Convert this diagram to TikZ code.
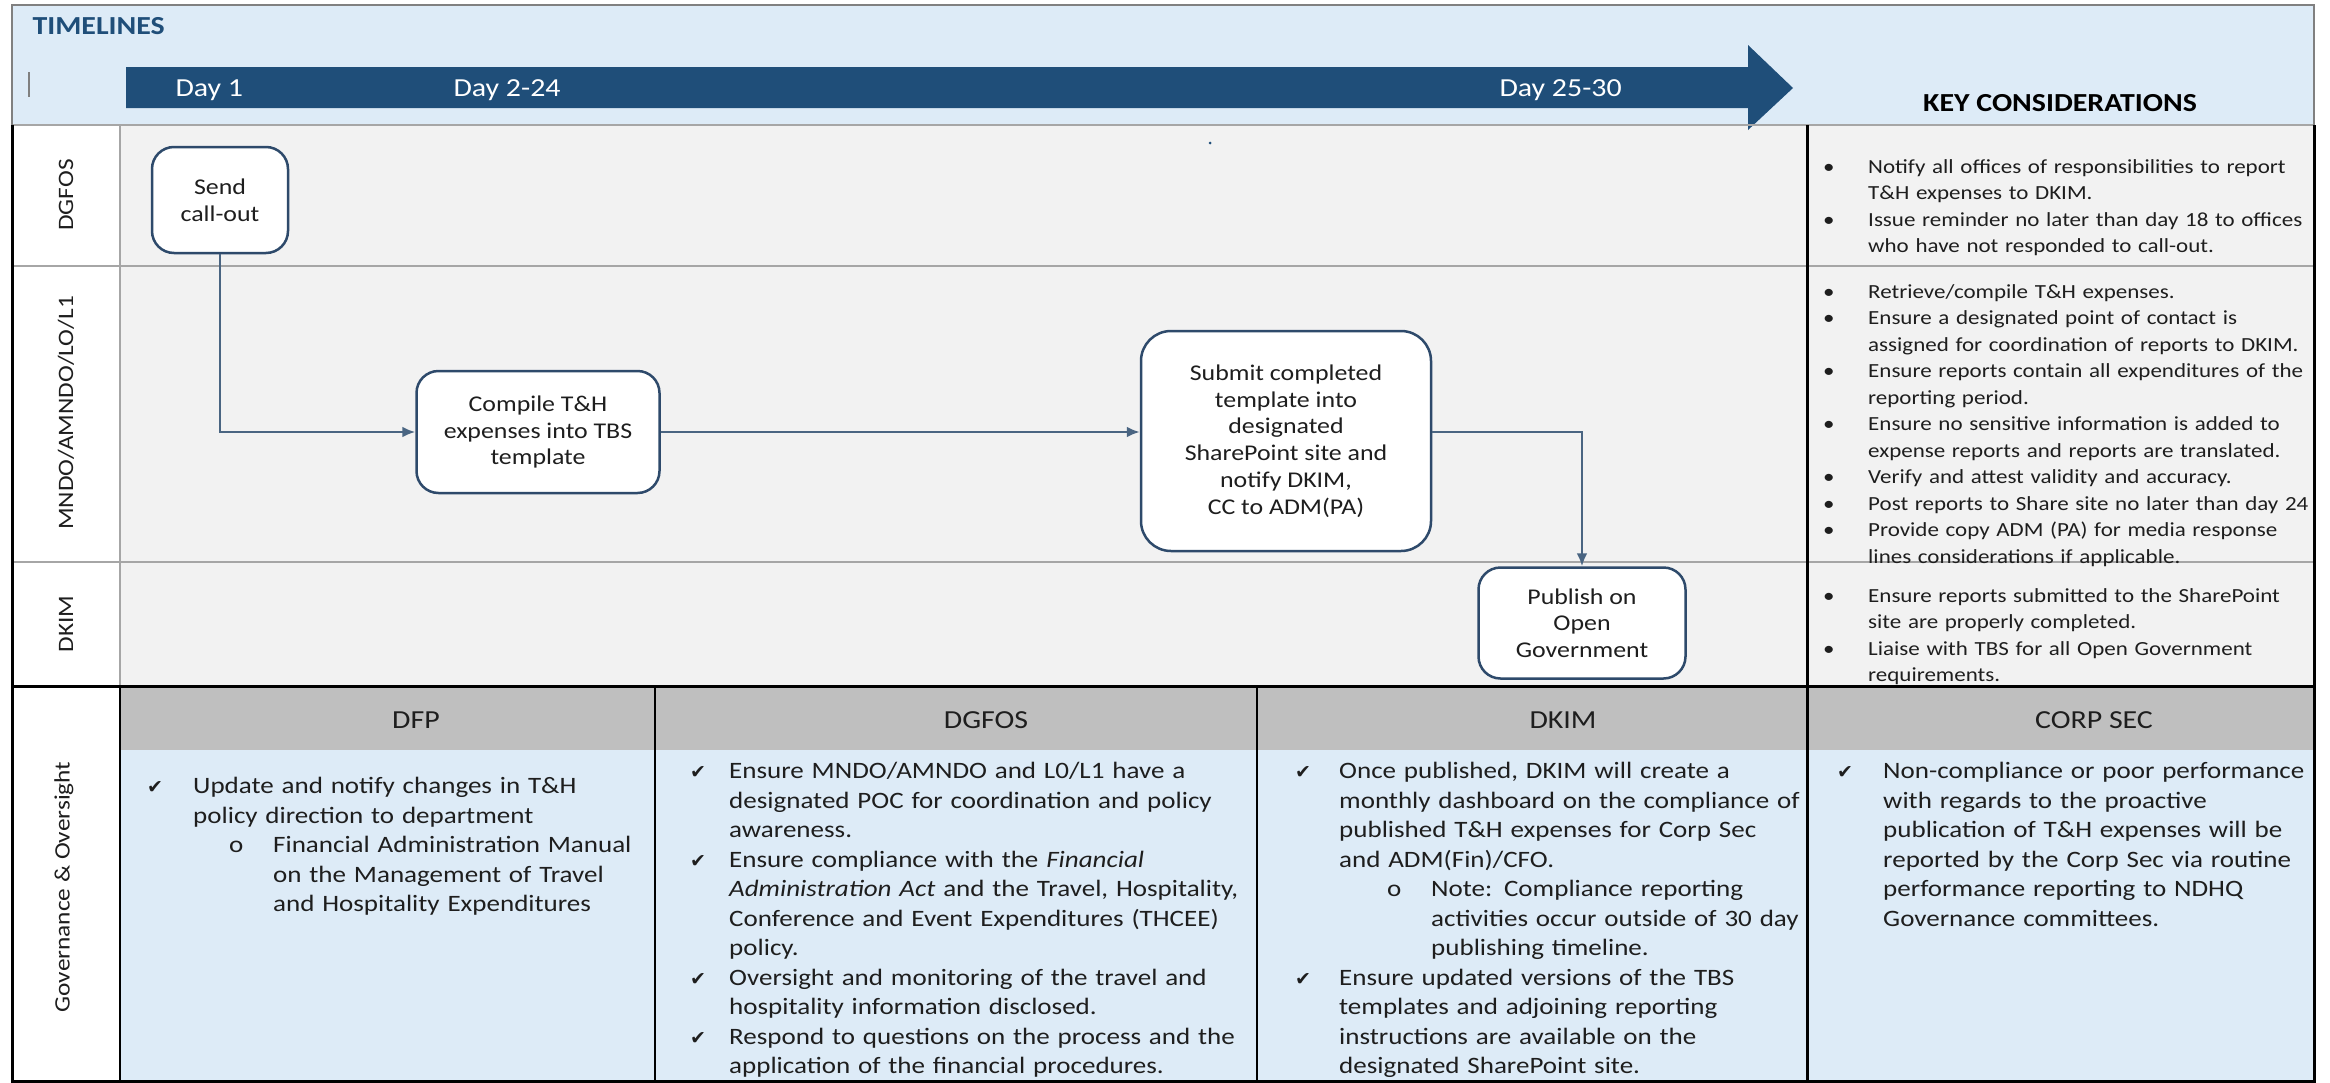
\documentclass[tikz,border=0pt]{standalone}
\usepackage{fontspec}
\setmainfont{Carlito}[FakeStretch=1.15]
\newfontfamily\symfont{DejaVu Sans}
\usetikzlibrary{arrows.meta}

\definecolor{headBlue}{HTML}{DDEBF7}
\definecolor{arrowBlue}{HTML}{1F4E79}
\definecolor{laneGray}{HTML}{F2F2F2}
\definecolor{gridGray}{HTML}{A6A6A6}
\definecolor{govGray}{HTML}{BFBFBF}
\definecolor{stepLine}{HTML}{2E4A6B}
\definecolor{linkLine}{HTML}{4A6582}
\definecolor{textDark}{HTML}{1E1E1E}

\newcommand{\stepFont}{\fontsize{22.5}{26.7}\selectfont}
\newcommand{\kcFont}{\fontsize{20}{26.5}\selectfont}
\newcommand{\govFont}{\fontsize{23.5}{29.5}\selectfont}
\newcommand{\laneFont}{\fontsize{22}{26}\selectfont}
\newcommand{\headFont}{\fontsize{26}{30}\selectfont}
\newcommand{\titleFont}{\fontsize{26}{30}\selectfont\bfseries}

% one list entry: mark, mark indent, text indent, text
\newcommand{\listitem}[4]{\par\noindent\hangindent=#3\hangafter=1%
  \makebox[#3][l]{\hspace*{#2}#1}\strut\ignorespaces#4\strut\par}
\newcommand{\chk}{{\symfont\fontsize{19}{19}\selectfont ✔}}

\begin{document}
\begin{tikzpicture}[x=1pt, y=-1pt,
    block_step/.style ={rectangle, draw=stepLine, line width=2.5pt, fill=white,
      rounded corners=22pt, align=center, inner sep=0pt, font=\stepFont, text=textDark},
    block_text/.style ={anchor=north west, inner sep=0pt, align=left, text=textDark},
    lane_label/.style ={rotate=90, font=\laneFont, text=textDark},
    gov_head/.style ={font=\headFont, text=textDark},
    day_label/.style ={anchor=west, font=\headFont, text=white},
    line/.style ={draw=linkLine, line width=2.4pt, -{Latex[length=13pt,width=11pt]}}]

    \useasboundingbox (0,0) rectangle (2330,1082);

    % backgrounds
    \fill [headBlue] (12,5) rectangle (2314,125);
    \fill [white] (12,125) rectangle (120,1081);
    \fill [laneGray] (120,125) rectangle (2314,686);
    \fill [govGray] (120,686) rectangle (2314,750);
    \fill [headBlue] (120,750) rectangle (2314,1081);

    % timeline header
    \fill [arrowBlue] (126,67) -- (1748,67) -- (1748,45) -- (1793,88)
      -- (1748,130) -- (1748,108) -- (126,108) -- cycle;
    \node [anchor=west, font=\titleFont, text=arrowBlue] (timelines) at (29,26) {TIMELINES};
    \draw [gray, line width=2pt] (29,72) -- (29,97);
    \node [day_label] (day1) at (172,90) {Day 1};
    \node [day_label] (day2) at (450,90) {Day 2-24};
    \node [day_label] (day25) at (1496,90) {Day 25-30};
    \node [font=\titleFont, text=black] (keyCons) at (2060,103) {KEY CONSIDERATIONS};
    \fill [arrowBlue] (1210,143) circle (1.5);

    % lane grid
    \draw [gridGray, line width=2pt] (12,125) -- (2314,125);
    \draw [gridGray, line width=2pt] (12,266) -- (2314,266);
    \draw [gridGray, line width=2pt] (12,562) -- (2314,562);
    \draw [gridGray, line width=2pt] (120,125) -- (120,686);
    \draw [black, line width=3pt] (12,686) -- (2314,686);
    \draw [black, line width=2.5pt] (120,686) -- (120,1081);
    \foreach \x in {655,1257} \draw [black, line width=2.5pt] (\x,686) -- (\x,1081);
    \draw [black, line width=3pt] (1807,125) -- (1807,1081);
    \draw [gray, line width=2.5pt] (12,125) -- (12,5) -- (2314,5) -- (2314,125);
    \draw [black, line width=3pt] (12,125) -- (12,1081) -- (2314,1081) -- (2314,125);

    % lane labels
    \node [lane_label] (laneDGFOS) at (66,195) {DGFOS};
    \node [lane_label] (laneMNDO) at (66,413) {MNDO/AMNDO/LO/L1};
    \node [lane_label] (laneDKIM) at (66,624) {DKIM};
    \node [lane_label] (laneGov) at (64,887) {Governance \& Oversight};

    % process steps
    \node [block_step, minimum width=136pt, minimum height=106pt] (sendCallout) at (220,200)
      {Send\\call-out};
    \node [block_step, minimum width=243pt, minimum height=122pt] (compileTH) at (538,432)
      {Compile T\&H\\expenses into TBS\\template};
    \node [block_step, minimum width=290pt, minimum height=220pt, rounded corners=30pt] (submitTpl) at (1286,441)
      {Submit completed\\template into\\designated\\SharePoint site and\\notify DKIM,\\CC to ADM(PA)};
    \node [block_step, minimum width=207pt, minimum height=111pt] (publishOG) at (1582,623)
      {Publish on\\Open\\Government};

    \begin{scope}[every path/.style=line]
    \path (sendCallout) |- (compileTH);
    \path (compileTH.east) -- (compileTH.east -| submitTpl.west);
    \path (submitTpl.east |- compileTH.east) -| (publishOG);
    \end{scope}

    % key considerations
    \node [block_text, font=\kcFont, text width=505pt] (kcDGFOS) at (1807,146.5)
      {\listitem{\textbullet}{16pt}{61pt}{Notify all offices of responsibilities to report\newline T\&H expenses to DKIM.}
       \listitem{\textbullet}{16pt}{61pt}{Issue reminder no later than day 18 to offices\newline who have not responded to call-out.}};
    \node [block_text, font=\kcFont, text width=505pt] (kcMNDO) at (1807,271.5)
      {\listitem{\textbullet}{16pt}{61pt}{Retrieve/compile T\&H expenses.}
       \listitem{\textbullet}{16pt}{61pt}{Ensure a designated point of contact is\newline assigned for coordination of reports to DKIM.}
       \listitem{\textbullet}{16pt}{61pt}{Ensure reports contain all expenditures of the\newline reporting period.}
       \listitem{\textbullet}{16pt}{61pt}{Ensure no sensitive information is added to\newline expense reports and reports are translated.}
       \listitem{\textbullet}{16pt}{61pt}{Verify and attest validity and accuracy.}
       \listitem{\textbullet}{16pt}{61pt}{Post reports to Share site no later than day 24}
       \listitem{\textbullet}{16pt}{61pt}{Provide copy ADM (PA) for media response\newline lines considerations if applicable.}};
    \node [block_text, font=\kcFont, text width=505pt] (kcDKIM) at (1807,575.5)
      {\listitem{\textbullet}{16pt}{61pt}{Ensure reports submitted to the SharePoint\newline site are properly completed.}
       \listitem{\textbullet}{16pt}{61pt}{Liaise with TBS for all Open Government\newline requirements.}};

    % governance and oversight
    \node [gov_head] (headDFP) at (416,720) {DFP};
    \node [gov_head] (headDGFOS) at (986,720) {DGFOS};
    \node [gov_head] (headDKIM) at (1563,720) {DKIM};
    \node [gov_head] (headCorp) at (2094,720) {CORP SEC};

    \node [block_text, font=\govFont, text width=530pt] (govDFP) at (120,764)
      {\listitem{\chk}{27pt}{73pt}{Update and notify changes in T\&H\newline policy direction to department}
       \listitem{o}{109pt}{153pt}{Financial Administration Manual\newline on the Management of Travel\newline and Hospitality Expenditures}};
    \node [block_text, font=\govFont, text width=600pt] (govDGFOS) at (655,749)
      {\listitem{\chk}{35pt}{74pt}{Ensure MNDO/AMNDO and L0/L1 have a\newline designated POC for coordination and policy\newline awareness.}
       \listitem{\chk}{35pt}{74pt}{Ensure compliance with the \textit{Financial\newline Administration Act} and the Travel, Hospitality,\newline Conference and Event Expenditures (THCEE)\newline policy.}
       \listitem{\chk}{35pt}{74pt}{Oversight and monitoring of the travel and\newline hospitality information disclosed.}
       \listitem{\chk}{35pt}{74pt}{Respond to questions on the process and the\newline application of the financial procedures.}};
    \node [block_text, font=\govFont, text width=548pt] (govDKIM) at (1257,749)
      {\listitem{\chk}{38pt}{82pt}{Once published, DKIM will create a\newline monthly dashboard on the compliance of\newline published T\&H expenses for Corp Sec\newline and ADM(Fin)/CFO.}
       \listitem{o}{130pt}{174pt}{Note: Compliance reporting\newline activities occur outside of 30 day\newline publishing timeline.}
       \listitem{\chk}{38pt}{82pt}{Ensure updated versions of the TBS\newline templates and adjoining reporting\newline instructions are available on the\newline designated SharePoint site.}};
    \node [block_text, font=\govFont, text width=505pt] (govCorp) at (1807,749)
      {\listitem{\chk}{30pt}{76pt}{Non-compliance or poor performance\newline with regards to the proactive\newline publication of T\&H expenses will be\newline reported by the Corp Sec via routine\newline performance reporting to NDHQ\newline Governance committees.}};

\end{tikzpicture}
\end{document}
